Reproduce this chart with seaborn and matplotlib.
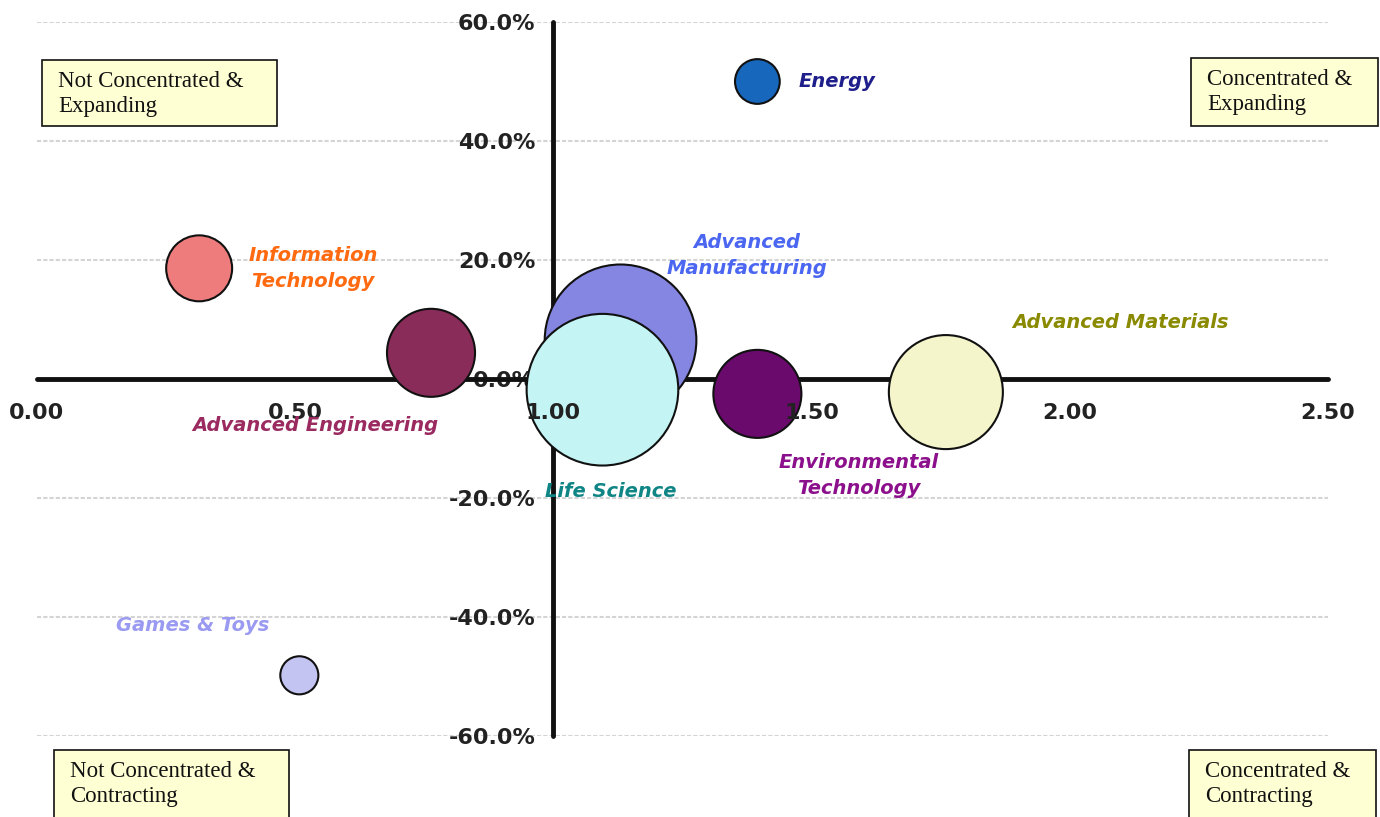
import pandas as pd
import matplotlib.pyplot as plt
import seaborn as sns
from matplotlib.patches import Rectangle
from matplotlib.ticker import PercentFormatter, FormatStrFormatter

# Cluster data
clusters = ['Energy', 'Information\nTechnology', 'Advanced Engineering', 'Advanced\nManufacturing',
            'Life Science', 'Environmental\nTechnology', 'Advanced Materials', 'Games & Toys']
location_quotient = [1.395, 0.314, 0.763, 1.13, 1.095, 1.395, 1.76, 0.508]
growth_pct = [50.0, 18.6, 4.4, 6.5, -1.8, -2.5, -2.2, -49.8]
bubble_size = [2000, 4350, 7750, 23000, 23000, 7750, 13000, 1450]

bubble_colors = ['#1767bd', '#ef7c7c', '#8a2c5a', '#8585e2', '#c4f4f4', '#690a6c', '#f5f5cc', '#c4c4f2']
label_colors = ['#1f1f8c', '#ff6a10', '#9a2a60', '#4b66f0', '#108585', '#8c108c', '#8a8a00', '#9a9af2']
# label offsets from bubble centre, in points
label_offsets = [(30, 0), (82, 0), (-83, -52), (91, 61), (6, -73), (73, -59), (126, 50), (-77, 36)]
label_ha = ['left', 'center', 'center', 'center', 'center', 'center', 'center', 'center']

quadrants = ['Not Concentrated &\nExpanding', 'Concentrated &\nExpanding',
             'Not Concentrated &\nContracting', 'Concentrated &\nContracting']

df = pd.DataFrame({'cluster': clusters, 'lq': location_quotient,
                   'growth': growth_pct, 'size': bubble_size})

sns.set_style('white')
plt.rcParams['axes.unicode_minus'] = False

W, H = 1380, 817
fig = plt.figure(figsize=(W / 100, H / 100), dpi=100)
ax = fig.add_axes([37 / W, 81 / H, 1291 / W, 714 / H])

# area in pt^2 for a bubble of diameter sqrt(size) px
px_pt = 72 / 100
smax = max(bubble_size)
sns.scatterplot(data=df, x='lq', y='growth', hue='cluster',
                palette=dict(zip(clusters, bubble_colors)),
                size='size', sizes=(0, smax * px_pt ** 2), size_norm=(0, smax),
                edgecolor='#111111', linewidth=1.5, alpha=1, legend=False,
                ax=ax, zorder=3, clip_on=False)

for i, name in enumerate(clusters):
    ax.annotate(name, (location_quotient[i], growth_pct[i]), xytext=label_offsets[i],
                textcoords='offset points', ha=label_ha[i], va='center',
                fontsize=14, fontweight='bold', fontstyle='italic',
                color=label_colors[i], linespacing=1.45, zorder=4)

ax.set_xlim(0, 2.5)
ax.set_ylim(-60, 60)
ax.set_xticks([0, 0.5, 1.0, 1.5, 2.0, 2.5])
ax.set_yticks(range(-60, 61, 20))
ax.xaxis.set_major_formatter(FormatStrFormatter('%.2f'))
ax.yaxis.set_major_formatter(PercentFormatter(xmax=100, decimals=1))
ax.set_xlabel('')
ax.set_ylabel('')

# dotted horizontal gridlines
ax.yaxis.grid(True, linestyle=(0, (2, 1)), color='#d4d4d4', linewidth=1.5)
ax.xaxis.grid(False)
ax.set_axisbelow(True)
# x tick labels sit on top of the bubbles, y labels underneath
ax.xaxis.set_zorder(3.5)

# axes crossing at (1.0, 0)
ax.spines['left'].set_position(('data', 1.0))
ax.spines['bottom'].set_position(('data', 0))
ax.spines['top'].set_visible(False)
ax.spines['right'].set_visible(False)
for s in ['left', 'bottom']:
    ax.spines[s].set_linewidth(3.5)
    ax.spines[s].set_color('#111111')
    ax.spines[s].set_zorder(1)
    ax.spines[s].set_capstyle('round')

ax.tick_params(axis='x', direction='out', length=4, width=3, color='#111111', pad=13,
               labelsize=16, labelcolor='#222222')
ax.tick_params(axis='y', direction='out', length=4, width=3, color='#111111', pad=9,
               labelsize=16, labelcolor='#222222')
for lab in ax.get_xticklabels() + ax.get_yticklabels():
    lab.set_fontweight('bold')

# quadrant boxes (pixel layout)
boxes = [(42, 60, 235, 66), (1191, 58, 187, 68), (54, 750, 235, 70), (1189, 750, 187, 70)]
for (x0, y0, w, h), txt in zip(boxes, quadrants):
    fig.patches.append(Rectangle((x0 / W, 1 - (y0 + h) / H), w / W, h / H,
                                 transform=fig.transFigure, facecolor='#ffffd4',
                                 edgecolor='#111111', linewidth=1.2))
    fig.text((x0 + 16) / W, 1 - (y0 + 34) / H, txt, ha='left', va='center',
             family='Liberation Serif', fontsize=16.5, linespacing=1.25, color='#111111')

fig.savefig('out.png', dpi=100)
